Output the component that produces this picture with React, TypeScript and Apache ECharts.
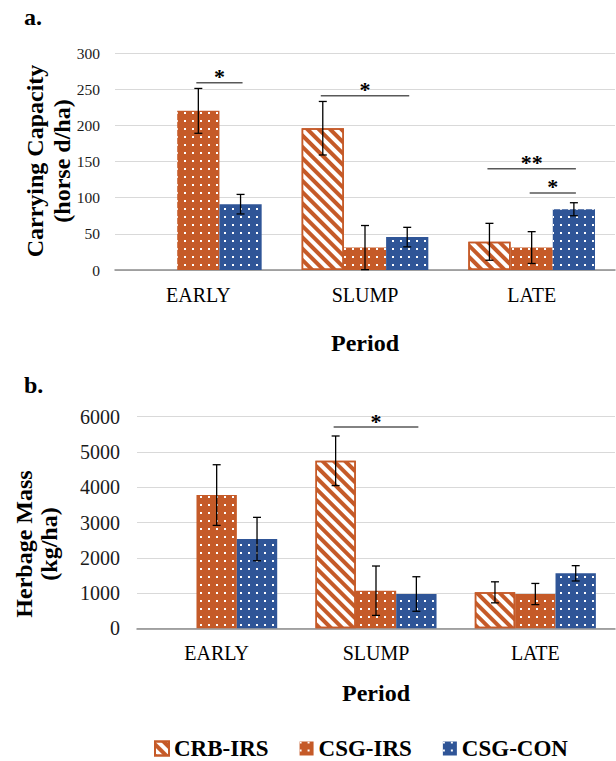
import React, { useEffect, useRef } from "react";
import * as echarts from "echarts";

// ---------- data ----------
const CATEGORIES = ["EARLY", "SLUMP", "LATE"];
const SERIES_NAMES = ["CRB-IRS", "CSG-IRS", "CSG-CON"];

// Carrying capacity (horse d/ha)
const CC_CRB_IRS: (number | null)[] = [null, 196, 39];
const CC_CSG_IRS: (number | null)[] = [220, 31, 31];
const CC_CSG_CON: (number | null)[] = [91, 45.5, 84];
const CC_ERR_CRB_IRS: (number | null)[] = [null, 37, 25.5];
const CC_ERR_CSG_IRS: (number | null)[] = [31, 30.5, 22];
const CC_ERR_CSG_CON: (number | null)[] = [13.5, 13.5, 9];

// Herbage mass (kg/ha)
const HM_CRB_IRS: (number | null)[] = [null, 4750, 1020];
const HM_CSG_IRS: (number | null)[] = [3778, 1066, 972];
const HM_CSG_CON: (number | null)[] = [2531, 972, 1559];
const HM_ERR_CRB_IRS: (number | null)[] = [null, 703, 298];
const HM_ERR_CSG_IRS: (number | null)[] = [860, 700, 300];
const HM_ERR_CSG_CON: (number | null)[] = [615, 490, 217];

// significance brackets: category, from bar, to bar, height, label
const CC_SIG_CAT = [0, 1, 2, 2];
const CC_SIG_FROM = [1, 0, 0, 1];
const CC_SIG_TO = [2, 2, 2, 2];
const CC_SIG_Y = [259, 241, 140, 106.5];
const CC_SIG_LABEL = ["*", "*", "**", "*"];

const HM_SIG_CAT = [1];
const HM_SIG_FROM = [0];
const HM_SIG_TO = [2];
const HM_SIG_Y = [5706];
const HM_SIG_LABEL = ["*"];

// ---------- style ----------
const ORANGE = "#C55A28";
const BLUE = "#2F5597";
const FONT = "Liberation Serif, Times New Roman, serif";
const GAP = 0.24;

const stripeDecal = {
  symbol: "rect",
  symbolSize: 1,
  color: ORANGE,
  dashArrayX: [1, 0],
  dashArrayY: [3.5, 3.5],
  rotation: Math.PI / 4,
};
const dotDecal = {
  symbol: "rect",
  symbolSize: 1,
  color: "#ffffff",
  dashArrayX: [1.8, 5.2],
  dashArrayY: [1.8, 5.2],
  rotation: 0,
};

const itemStyles = [
  { color: "#ffffff", borderColor: ORANGE, borderWidth: 1.5, decal: stripeDecal },
  { color: ORANGE, decal: dotDecal },
  { color: BLUE, decal: dotDecal },
];

function errRender(params: any, api: any) {
  const cat = api.value(0);
  const val = api.value(1);
  const err = api.value(2);
  const bi = api.value(3);
  const c = api.coord([cat, val]);
  const band = api.size([1, 0])[0];
  const bw = (band * (1 - GAP)) / 3;
  const x = c[0] + (bi - 1) * bw;
  const yTop = api.coord([cat, val + err])[1];
  const yBot = api.coord([cat, Math.max(0, val - err)])[1];
  const cap = 4;
  const st = { stroke: "#000", lineWidth: 1.3 };
  return {
    type: "group",
    children: [
      { type: "line", shape: { x1: x, y1: yTop, x2: x, y2: yBot }, style: st },
      { type: "line", shape: { x1: x - cap, y1: yTop, x2: x + cap, y2: yTop }, style: st },
      { type: "line", shape: { x1: x - cap, y1: yBot, x2: x + cap, y2: yBot }, style: st },
    ],
  };
}

function makeSigRender(labels: string[]) {
  return function (params: any, api: any) {
    const cat = api.value(0);
    const from = api.value(1);
    const to = api.value(2);
    const yv = api.value(3);
    const c = api.coord([cat, yv]);
    const band = api.size([1, 0])[0];
    const bw = (band * (1 - GAP)) / 3;
    const x1 = c[0] + (from - 1) * bw;
    const x2 = c[0] + (to - 1) * bw;
    const y = c[1];
    return {
      type: "group",
      children: [
        {
          type: "line",
          shape: { x1: x1 - 2, y1: y, x2: x2 + 2, y2: y },
          style: { stroke: "#595959", lineWidth: 1.5 },
        },
        {
          type: "text",
          x: (x1 + x2) / 2,
          y: y - 6,
          style: {
            text: labels[params.dataIndex],
            align: "center",
            verticalAlign: "middle",
            font: `bold 22px ${FONT}`,
            fill: "#000",
          },
        },
      ],
    };
  };
}

function buildErr(vals: (number | null)[][], errs: (number | null)[][]) {
  const out: number[][] = [];
  for (let s = 0; s < 3; s++) {
    for (let c = 0; c < CATEGORIES.length; c++) {
      const v = vals[s][c];
      const e = errs[s][c];
      if (v != null && e != null) out.push([c, v, e, s]);
    }
  }
  return out;
}

function buildSig(cat: number[], from: number[], to: number[], y: number[]) {
  return cat.map((c, i) => [c, from[i], to[i], y[i]]);
}

export default function App() {
  const ref = useRef<HTMLDivElement>(null);
  useEffect(() => {
    if (!ref.current) return;
    const chart = echarts.init(ref.current, null, { renderer: "svg" });

    const ccVals = [CC_CRB_IRS, CC_CSG_IRS, CC_CSG_CON];
    const hmVals = [HM_CRB_IRS, HM_CSG_IRS, HM_CSG_CON];

    const series: any[] = [];
    [ccVals, hmVals].forEach((vals, g) => {
      vals.forEach((d, s) => {
        series.push({
          type: "bar",
          name: SERIES_NAMES[s],
          xAxisIndex: g,
          yAxisIndex: g,
          data: d.map((v) => (v == null ? "-" : v)),
          barGap: "0%",
          barCategoryGap: `${GAP * 100}%`,
          itemStyle: itemStyles[s],
          silent: true,
        });
      });
    });
    series.push({
      type: "custom",
      xAxisIndex: 0,
      yAxisIndex: 0,
      renderItem: errRender,
      encode: { x: 0, y: 1 },
      data: buildErr(ccVals, [CC_ERR_CRB_IRS, CC_ERR_CSG_IRS, CC_ERR_CSG_CON]),
      z: 5,
      silent: true,
    });
    series.push({
      type: "custom",
      xAxisIndex: 1,
      yAxisIndex: 1,
      renderItem: errRender,
      encode: { x: 0, y: 1 },
      data: buildErr(hmVals, [HM_ERR_CRB_IRS, HM_ERR_CSG_IRS, HM_ERR_CSG_CON]),
      z: 5,
      silent: true,
    });
    series.push({
      type: "custom",
      xAxisIndex: 0,
      yAxisIndex: 0,
      renderItem: makeSigRender(CC_SIG_LABEL),
      encode: { x: 0, y: 3 },
      data: buildSig(CC_SIG_CAT, CC_SIG_FROM, CC_SIG_TO, CC_SIG_Y),
      z: 5,
      clip: false,
      silent: true,
    });
    series.push({
      type: "custom",
      xAxisIndex: 1,
      yAxisIndex: 1,
      renderItem: makeSigRender(HM_SIG_LABEL),
      encode: { x: 0, y: 3 },
      data: buildSig(HM_SIG_CAT, HM_SIG_FROM, HM_SIG_TO, HM_SIG_Y),
      z: 5,
      clip: false,
      silent: true,
    });

    const xAxisBase = (nameGap: number) => ({
      type: "category",
      data: CATEGORIES,
      name: "Period",
      nameLocation: "middle",
      nameGap,
      nameTextStyle: { fontFamily: FONT, fontWeight: "bold", fontSize: 24, color: "#000" },
      axisLine: { lineStyle: { color: "#8c8c8c", width: 1.5 } },
      axisTick: { show: false },
      axisLabel: { fontFamily: FONT, fontSize: 20, color: "#000", margin: 15 },
    });

    chart.setOption({
      animation: false,
      textStyle: { fontFamily: FONT },
      grid: [
        { left: 115, right: 1, top: 53, height: 217 },
        { left: 137, right: 1, top: 416.7, height: 211.6 },
      ],
      xAxis: [
        { ...xAxisBase(61), gridIndex: 0 },
        { ...xAxisBase(53), gridIndex: 1 },
      ],
      yAxis: [
        {
          type: "value",
          gridIndex: 0,
          min: 0,
          max: 300,
          interval: 50,
          axisLine: { show: false },
          axisTick: { show: false },
          splitLine: { lineStyle: { color: "#d9d9d9", width: 1 } },
          axisLabel: { fontFamily: FONT, fontSize: 15.5, color: "#1a1a1a", margin: 15 },
        },
        {
          type: "value",
          gridIndex: 1,
          min: 0,
          max: 6000,
          interval: 1000,
          axisLine: { show: false },
          axisTick: { show: false },
          splitLine: { lineStyle: { color: "#d9d9d9", width: 1 } },
          axisLabel: {
            fontFamily: FONT,
            fontSize: 20,
            color: "#1a1a1a",
            margin: 17,
            formatter: (v: number) => String(v),
          },
        },
      ],
      legend: {
        data: SERIES_NAMES,
        left: 154,
        top: 737,
        icon: "rect",
        itemWidth: 14,
        itemHeight: 14,
        itemGap: 31,
        padding: 0,
        textStyle: {
          fontFamily: FONT,
          fontWeight: "bold",
          fontSize: 23,
          lineHeight: 20,
          color: "#000",
        },
        selectedMode: false,
      },
      graphic: [
        {
          type: "text",
          left: 24,
          top: 5,
          style: { text: "a.", font: `bold 24px ${FONT}`, fill: "#000" },
        },
        {
          type: "text",
          left: 24,
          top: 373,
          style: { text: "b.", font: `bold 24px ${FONT}`, fill: "#000" },
        },
        {
          type: "text",
          x: 48,
          y: 161,
          rotation: Math.PI / 2,
          style: {
            text: "Carrying Capacity\n(horse d/ha)",
            align: "center",
            verticalAlign: "middle",
            font: `bold 24px ${FONT}`,
            lineHeight: 27,
            fill: "#000",
          },
        },
        {
          type: "text",
          x: 36,
          y: 544,
          rotation: Math.PI / 2,
          style: {
            text: "Herbage Mass\n(kg/ha)",
            align: "center",
            verticalAlign: "middle",
            font: `bold 24px ${FONT}`,
            lineHeight: 25,
            fill: "#000",
          },
        },
      ],
      series,
    });
    return () => chart.dispose();
  }, []);
  return (
    <div
      ref={ref}
      style={{ position: "absolute", left: 0, top: 0, width: 616, height: 761, background: "#fff" }}
    />
  );
}
